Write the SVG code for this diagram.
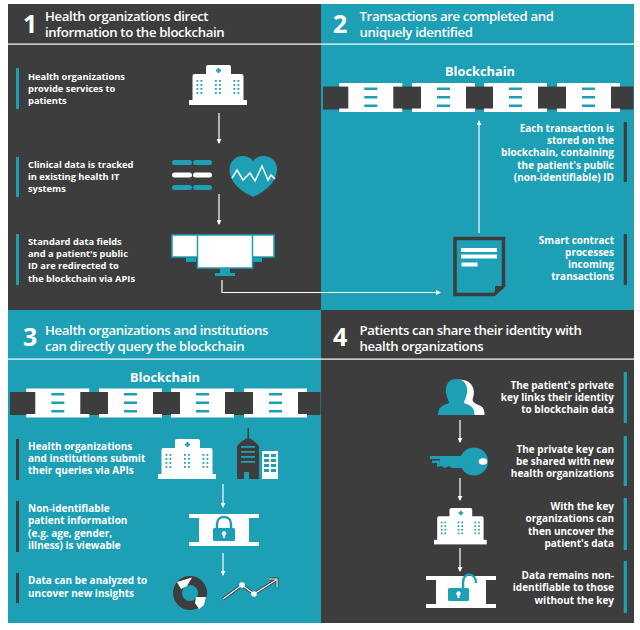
<svg xmlns="http://www.w3.org/2000/svg" xmlns:xlink="http://www.w3.org/1999/xlink" width="640" height="630" viewBox="0 0 640 630">
<style>
text{font-family:"Open Sans","Noto Sans","Liberation Sans",sans-serif;fill:#fff}
.h{font-size:13.200px;font-weight:600;letter-spacing:-.35px}
.n{font-size:25px;font-weight:700}
.b{font-size:10px;font-weight:700}
#step1a .b,#step1b .b,#step1c .b{font-size:9.300px}
.r{text-anchor:end}
.bc{font-size:12.800px;font-weight:700;text-anchor:middle}
.t{fill:#1d9fb5}.d{fill:#3d3d3d}.w{fill:#fff}
.c{fill:none;stroke:#fff;stroke-width:1.200}
</style>
<defs>
<marker id="ah" markerWidth="5" markerHeight="5" refX="4" refY="2.500" orient="auto" markerUnits="userSpaceOnUse"><path d="M0 0L5 2.500L0 5Z" fill="#fff"/></marker>
<g id="block">
<path class="w" d="M0 0H63V3.500H54V25.500H63V29H0V25.500H9V3.500H0Z"/>
<rect class="t" x="25" y="4.500" width="13" height="2.500"/><rect class="t" x="25" y="13" width="13" height="2.500"/><rect class="t" x="25" y="21.500" width="13" height="2.500"/>
</g>
<g id="chain">
<rect class="d" x="0" y="3.500" width="310.500" height="23"/>
<use xlink:href="#block" href="#block" x="16.300"/><use xlink:href="#block" href="#block" x="89"/><use xlink:href="#block" href="#block" x="161"/><use xlink:href="#block" href="#block" x="234"/>
</g>
<g id="win"><rect width="1.800" height="1.800" x="0" y="0"/><rect width="1.800" height="1.800" x="4" y="0"/><rect width="1.800" height="1.800" x="0" y="4"/><rect width="1.800" height="1.800" x="4" y="4"/><rect width="1.800" height="1.800" x="0" y="8"/><rect width="1.800" height="1.800" x="4" y="8"/><rect width="1.800" height="1.800" x="0" y="12"/><rect width="1.800" height="1.800" x="4" y="12"/></g>
<g id="hosp">
<rect class="w" x="17" y="0" width="25" height="20" rx="2"/><rect class="w" x="3.500" y="9" width="51" height="28" rx="2"/><rect class="w" x="0" y="35" width="58" height="5"/>
<g class="t"><use xlink:href="#win" href="#win" x="7.500" y="15"/><use xlink:href="#win" href="#win" x="26" y="15"/><use xlink:href="#win" href="#win" x="44.500" y="15"/><rect x="28.500" y="3" width="2" height="5"/><rect x="27" y="4.500" width="5" height="2"/></g>
</g>
<path id="ibar" class="w" d="M0 0H70V4H60V28H70V32H0V28H10V4H0Z"/>
</defs>

<g id="panels">
<rect class="d" x="8" y="4" width="313" height="306"/>
<rect class="t" x="321" y="4" width="313" height="306"/>
<rect class="t" x="8" y="310" width="313" height="313"/>
<rect class="d" x="321" y="310" width="313" height="313"/>
<rect class="w" x="8" y="43.500" width="626" height="1.200"/>
<rect class="w" x="8" y="358.500" width="626" height="1.200"/>
</g>

<g id="connectors">
<path class="c" marker-end="url(#ah)" d="M219 113V143"/>
<path class="c" marker-end="url(#ah)" d="M219 194V224"/>
<path class="c" marker-end="url(#ah)" d="M222 280V292.500H440"/>
<path class="c" marker-end="url(#ah)" d="M479 233V121"/>
<path class="c" marker-end="url(#ah)" d="M223 484V507"/>
<path class="c" marker-end="url(#ah)" d="M223 553V575"/>
<path class="c" marker-end="url(#ah)" d="M460 420V442"/>
<path class="c" marker-end="url(#ah)" d="M460 478V500"/>
<path class="c" marker-end="url(#ah)" d="M460 548V571"/>
</g>

<g id="head1"><text class="n" x="23" y="32.500">1</text><text class="h" x="45" y="21">Health organizations direct</text><text class="h" x="45" y="36.500">information to the blockchain</text></g>
<g id="head2"><text class="n" x="333" y="32.500">2</text><text class="h" x="359.500" y="21">Transactions are completed and</text><text class="h" x="359.500" y="36.500">uniquely identified</text></g>
<g id="head3"><text class="n" x="23" y="346">3</text><text class="h" x="45" y="335">Health organizations and institutions</text><text class="h" x="45" y="350.500">can directly query the blockchain</text></g>
<g id="head4"><text class="n" x="333" y="346">4</text><text class="h" x="359.500" y="335">Patients can share their identity with</text><text class="h" x="359.500" y="350.500">health organizations</text></g>

<g id="step1a"><rect class="t" x="16" y="68" width="3" height="41"/><text class="b" x="28" y="80">Health organizations</text><text class="b" x="28" y="92.200">provide services to</text><text class="b" x="28" y="104">patients</text></g>
<g id="step1b"><rect class="t" x="16" y="157" width="3" height="40"/><text class="b" x="28" y="168">Clinical data is tracked</text><text class="b" x="28" y="180">in existing health IT</text><text class="b" x="28" y="192">systems</text></g>
<g id="step1c"><rect class="t" x="16" y="234" width="3" height="51"/><text class="b" x="28" y="245">Standard data fields</text><text class="b" x="28" y="257">and a patient's public</text><text class="b" x="28" y="269.300">ID are redirected to</text><text class="b" x="28" y="281.500">the blockchain via APIs</text></g>

<g id="hospital1"><use xlink:href="#hosp" href="#hosp" x="189" y="65"/></g>
<g id="records">
<rect class="t" x="172" y="160" width="20" height="5" rx="2.500"/><rect class="t" x="193" y="160" width="19" height="5" rx="2.500"/>
<rect class="w" x="172" y="172.500" width="20" height="5" rx="2.500"/><rect class="w" x="193" y="172.500" width="19" height="5" rx="2.500"/>
<rect class="t" x="172" y="185" width="20" height="5" rx="2.500"/><rect class="t" x="193" y="185" width="19" height="5" rx="2.500"/>
</g>
<g id="heart">
<path class="t" d="M253 197C240 191 229 182 229.500 169C230 160 237 156 242 156C247 156 251 158 253 161C255 158 259 156 264 156C270 156 277 161 277 169C277 182 266 191 253 197Z"/>
<path fill="none" stroke="#fff" stroke-width="1.500" d="M232 178L237 170L243 180L250 173L255 181L262 166L268 180L271 175L275 179"/>
</g>
<g id="monitors">
<rect class="w" x="172" y="235" width="27" height="22" stroke="#1d9fb5" stroke-width="1.500"/>
<rect class="w" x="251" y="235" width="23" height="22" stroke="#1d9fb5" stroke-width="1.500"/>
<path class="t" d="M186 258H196V262H186ZM252 258H262V262H252ZM220 268H230V273H235V276H215V273H220Z"/>
<rect class="w" x="197.500" y="235" width="55" height="33" stroke="#1d9fb5" stroke-width="1.500"/>
</g>

<g id="chain2"><use xlink:href="#chain" href="#chain" x="323" y="83"/><text class="bc" x="480" y="76">Blockchain</text></g>
<g id="step2a"><rect class="d" x="623.700" y="122" width="3.200" height="60"/><text class="b r" x="614" y="132">Each transaction is</text><text class="b r" x="614" y="144">stored on the</text><text class="b r" x="614" y="156">blockchain, containing</text><text class="b r" x="614" y="168.500">the patient's public</text><text class="b r" x="614" y="180.500">(non-identifiable) ID</text></g>
<g id="step2b"><rect class="d" x="623.700" y="234" width="3.200" height="51"/><text class="b r" x="614" y="244">Smart contract</text><text class="b r" x="614" y="256">processes</text><text class="b r" x="614" y="268">incoming</text><text class="b r" x="614" y="280">transactions</text></g>
<g id="document">
<path fill="#1d9fb5" stroke="#3d3d3d" stroke-width="3.500" d="M455 238.500H503.500V286L494 294.500H455Z"/>
<path class="d" d="M495 295V286H504Z"/>
<rect class="w" x="461" y="248" width="36" height="4"/><rect class="w" x="461" y="254.500" width="36" height="4"/><rect class="w" x="461.500" y="262.500" width="16" height="4"/>
</g>

<g id="chain3"><use xlink:href="#chain" href="#chain" x="10" y="388.500"/><text class="bc" x="165" y="382">Blockchain</text></g>
<g id="step3a"><rect class="d" x="16" y="439" width="3" height="41"/><text class="b" x="28" y="450">Health organizations</text><text class="b" x="28" y="462">and institutions submit</text><text class="b" x="28" y="474">their queries via APIs</text></g>
<g id="step3b"><rect class="d" x="16" y="501" width="3" height="51"/><text class="b" x="28" y="512">Non-identifiable</text><text class="b" x="28" y="524">patient information</text><text class="b" x="28" y="536.500">(e.g. age, gender,</text><text class="b" x="28" y="548.500">illness) is viewable</text></g>
<g id="step3c"><rect class="d" x="16" y="573" width="3" height="30"/><text class="b" x="28" y="584">Data can be analyzed to</text><text class="b" x="28" y="596.500">uncover new insights</text></g>

<g id="hospital3"><use xlink:href="#hosp" href="#hosp" x="158" y="439"/></g>
<g id="tower">
<path class="d" d="M247.500 428H249V438L254 441L259 446V479H249V472H244V479H237V446L242 441L247.500 438Z"/>
<g class="t"><rect x="241" y="446" width="14" height="1.800"/><rect x="241" y="451" width="14" height="1.800"/><rect x="241" y="456" width="14" height="1.800"/><rect x="241" y="461" width="14" height="1.800"/></g>
<rect class="w" x="262" y="451" width="16" height="28"/>
<g class="t"><rect x="264" y="454" width="5" height="3"/><rect x="271" y="454" width="5" height="3"/><rect x="264" y="459" width="5" height="3"/><rect x="271" y="459" width="5" height="3"/><rect x="264" y="464" width="5" height="3"/><rect x="271" y="464" width="5" height="3"/><rect x="264" y="469" width="5" height="3"/><rect x="271" y="469" width="5" height="3"/></g>
</g>
<g id="lock3">
<use xlink:href="#ibar" href="#ibar" x="189" y="514"/>
<path fill="none" stroke="#1d9fb5" stroke-width="2.500" d="M217 530V524C217 514.500 231 514.500 231 524V530"/>
<rect class="t" x="213" y="528" width="22" height="13" rx="1.500"/><circle class="w" cx="224" cy="533.500" r="2.200"/><rect class="w" x="223" y="534" width="2" height="4"/>
</g>
<g id="donut">
<circle cx="190" cy="593" r="12.500" fill="none" stroke="#3d3d3d" stroke-width="9"/>
<path class="w" d="M177 582L192 577.500L187 586L181 589Z"/>
<path class="w" d="M196 597H206L204 605L199 609L195 603Z"/>
</g>
<g id="trend">
<path fill="none" stroke="#3d3d3d" stroke-width="3" d="M223 599L242 585L254 594L276 580M269 579H277V587"/>
<path fill="none" stroke="#fff" stroke-width="1.200" d="M223 599L242 585L254 594L276 580M269 579H277V587"/>
<circle class="w" cx="242" cy="585" r="2.800"/><circle class="w" cx="254" cy="594" r="2.800"/>
</g>

<g id="step4a"><rect class="t" x="623.700" y="372" width="3.200" height="51"/><text class="b r" x="614" y="389">The patient's private</text><text class="b r" x="614" y="401">key links their identity</text><text class="b r" x="614" y="413">to blockchain data</text></g>
<g id="step4b"><rect class="t" x="623.700" y="436" width="3.200" height="50"/><text class="b r" x="614" y="452.500">The private key can</text><text class="b r" x="614" y="464.500">be shared with new</text><text class="b r" x="614" y="476.500">health organizations</text></g>
<g id="step4c"><rect class="t" x="623.700" y="498" width="3.200" height="52"/><text class="b r" x="614" y="510">With the key</text><text class="b r" x="614" y="522">organizations can</text><text class="b r" x="614" y="534.500">then uncover the</text><text class="b r" x="614" y="546.500">patient's data</text></g>
<g id="step4d"><rect class="t" x="623.700" y="561" width="3.200" height="52"/><text class="b r" x="614" y="579">Data remains non-</text><text class="b r" x="614" y="591">identifiable to those</text><text class="b r" x="614" y="603.500">without the key</text></g>

<g id="person">
<path class="w" d="M457 380C472 378 476 390 473 398C471 402 476 404 481 406C484 408 484.500 411 484.500 415H457Z"/>
<path class="t" d="M456 379C465 379 468 386 467 393C466 398 464 401 464 403C469 405 474.500 406 474.500 415H438C438 406 444 405 449 403C449 401 447 398 446 393C445 386 448 379 456 379Z"/>
</g>
<g id="key">
<circle class="t" cx="474" cy="461.500" r="14"/>
<path class="t" d="M430 456H465V468H452L449 466L445 468L441 466L437 467V463H432V460.500H440V459H430Z"/>
<ellipse class="w" cx="483" cy="461.500" rx="4.200" ry="3.200"/>
</g>
<g id="hospital4"><use xlink:href="#hosp" href="#hosp" transform="translate(434 508) scale(.91)"/></g>
<g id="lock4">
<use xlink:href="#ibar" href="#ibar" x="426" y="576"/>
<path fill="none" stroke="#1d9fb5" stroke-width="2.500" d="M463 589V582C463 572 476 572 476 583"/>
<rect class="t" x="448" y="588" width="21" height="13" rx="1.500"/><circle class="w" cx="458.500" cy="593.500" r="2.200"/><rect class="w" x="457.500" y="594" width="2" height="4"/>
</g>
</svg>
